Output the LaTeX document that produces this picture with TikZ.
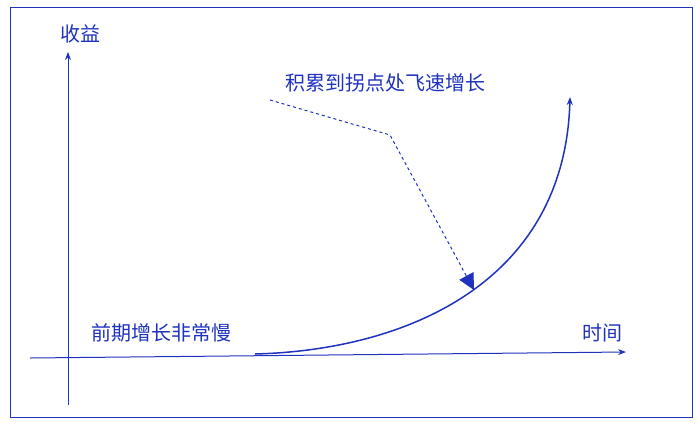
\documentclass[tikz,border=0pt]{standalone}
\usepackage{fontspec}
\newfontfamily\cjk{Noto Sans CJK SC}
\usetikzlibrary{arrows.meta}
\definecolor{bl}{RGB}{30,50,190}
\begin{document}
\begin{tikzpicture}[x=1pt,y=-1pt,
  lab/.style={font=\cjk\fontsize{20}{24}\selectfont,text=bl,inner sep=0pt},
  ln/.style={draw=bl,line width=1pt}]
\useasboundingbox (0,0) rectangle (700,425);
\draw[bl,line width=1pt] (10,8) rectangle (692,417);
\coordinate (y0) at (68,405); \coordinate (y1) at (68,52);
\coordinate (x0) at (30,358); \coordinate (x1) at (626,352);
\draw[ln,-{Stealth[length=8pt,width=6pt]}] (y0) -- (y1);
\draw[ln,-{Stealth[length=8pt,width=6pt]}] (x0) -- (x1);
\node[lab] (ylab) at (80,34) {收益};
\node[lab] (xlab) at (602,333) {时间};
\node[lab] (slow) at (161,333) {前期增长非常慢};
\node[lab] (fast) at (385,83) {积累到拐点处飞速增长};
\coordinate (c0) at (255,354); \coordinate (c1) at (570,97);
\draw[ln,line width=1.5pt,-{Stealth[length=8pt,width=6pt]}] (c0) .. controls (410,350) and (565,280) .. (c1);
\coordinate (d0) at (270,100); \coordinate (d1) at (390,135); \coordinate (d2) at (474,290);
\draw[ln,dashed,-{Triangle[length=16pt,width=16pt]}] (d0) -- (d1) -- (d2);
\end{tikzpicture}
\end{document}
